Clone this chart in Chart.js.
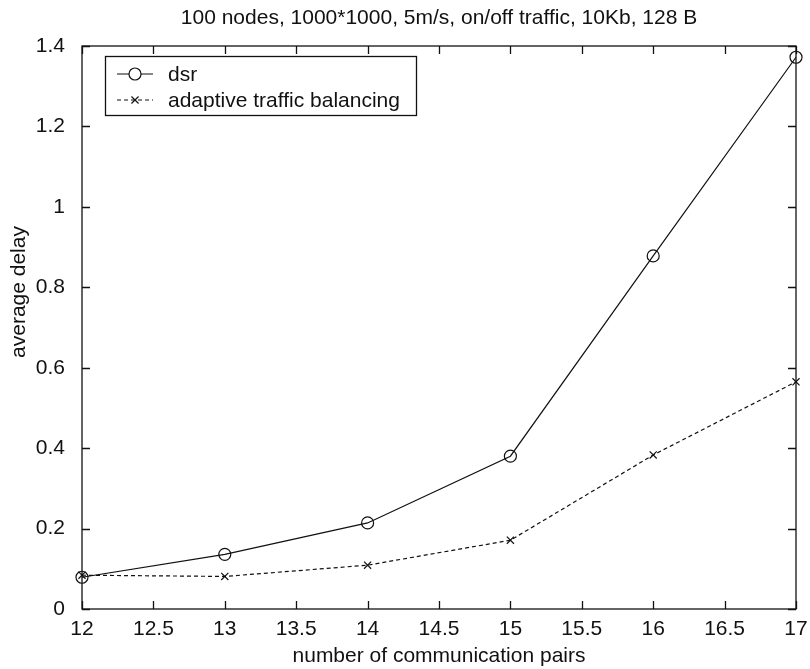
<!DOCTYPE html>
<html>
<head>
<meta charset="utf-8">
<script src="https://cdn.jsdelivr.net/npm/chart.js@4.4.1/dist/chart.umd.min.js"></script>
<style>
  html, body { margin: 0; padding: 0; background: #fff; }
  #wrap { width: 810px; height: 669px; }
</style>
</head>
<body>
<div id="wrap"><canvas id="c" width="810" height="669"></canvas></div>
<script>
// Number of communication pairs (x values)
const pairs = [12, 13, 14, 15, 16, 17];
// Average delay per protocol
const dsrDelay = [0.079, 0.136, 0.214, 0.380, 0.878, 1.372];
const atbDelay = [0.084, 0.081, 0.109, 0.171, 0.383, 0.565];
const seriesNames = ['dsr', 'adaptive traffic balancing'];

const titleText = '100 nodes, 1000*1000, 5m/s, on/off traffic, 10Kb, 128 B';
const xTitle = 'number of communication pairs';
const yTitle = 'average delay';

const FONT = '"Liberation Sans", Arial, Helvetica, sans-serif';
const INK = '#111';

const toPoints = (xs, ys) => xs.map((x, i) => ({ x: x, y: ys[i] }));
const fmt = v => String(Math.round(v * 10) / 10);

// Frame, inward tick marks on all four sides, titles and the legend box
const matlabAxes = {
  id: 'matlabAxes',
  afterDatasetsDraw(chart) {
    const ctx = chart.ctx;
    const a = chart.chartArea;
    const xs = chart.scales.x, ys = chart.scales.y;
    const tl = 8;
    ctx.save();
    ctx.strokeStyle = INK;
    ctx.lineWidth = 1.3;
    ctx.setLineDash([]);
    ctx.strokeRect(a.left, a.top, a.right - a.left, a.bottom - a.top);
    ctx.beginPath();
    xs.ticks.forEach(t => {
      const px = Math.round(xs.getPixelForValue(t.value)) + 0.5;
      ctx.moveTo(px, a.bottom); ctx.lineTo(px, a.bottom - tl);
      ctx.moveTo(px, a.top); ctx.lineTo(px, a.top + tl);
    });
    ys.ticks.forEach(t => {
      const py = Math.round(ys.getPixelForValue(t.value)) + 0.5;
      ctx.moveTo(a.left, py); ctx.lineTo(a.left + tl, py);
      ctx.moveTo(a.right, py); ctx.lineTo(a.right - tl, py);
    });
    ctx.stroke();

    // titles
    ctx.fillStyle = INK;
    ctx.font = '21px ' + FONT;
    ctx.textAlign = 'center';
    ctx.textBaseline = 'middle';
    const cx = (a.left + a.right) / 2;
    ctx.fillText(titleText, cx, 18);
    ctx.fillText(xTitle, cx, 656);
    ctx.save();
    ctx.translate(19, 292);
    ctx.rotate(-Math.PI / 2);
    ctx.fillText(yTitle, 0, 0);
    ctx.restore();

    // legend
    const lx = 105, ly = 56, lw = 311, lh = 59;
    ctx.fillStyle = '#fff';
    ctx.fillRect(lx, ly, lw, lh);
    ctx.strokeStyle = INK;
    ctx.lineWidth = 1.3;
    ctx.strokeRect(lx + 0.5, ly + 0.5, lw, lh);
    const rows = [74, 100];
    chart.data.datasets.forEach((ds, i) => {
      const y = rows[i];
      ctx.strokeStyle = ds.borderColor;
      ctx.lineWidth = ds.borderWidth;
      ctx.setLineDash(ds.borderDash || []);
      ctx.beginPath();
      ctx.moveTo(117, y); ctx.lineTo(153, y);
      ctx.stroke();
      ctx.setLineDash([]);
      Chart.helpers.drawPoint(ctx, {
        pointStyle: ds.pointStyle,
        radius: ds.pointRadius,
        borderWidth: ds.pointBorderWidth || 1
      }, 135, y);
      ctx.fillStyle = INK;
      ctx.font = '21px ' + FONT;
      ctx.textAlign = 'left';
      ctx.fillText(ds.label, 168, y + 1);
    });
    ctx.restore();
  }
};

new Chart(document.getElementById('c'), {
  type: 'line',
  data: {
    datasets: [
      {
        label: seriesNames[0],
        data: toPoints(pairs, dsrDelay),
        borderColor: INK,
        borderWidth: 1.2,
        pointStyle: 'circle',
        pointRadius: 6,
        pointBorderWidth: 1.2,
        pointBorderColor: INK,
        pointBackgroundColor: 'rgba(0,0,0,0)',
        fill: false,
        tension: 0,
        clip: false
      },
      {
        label: seriesNames[1],
        data: toPoints(pairs, atbDelay),
        borderColor: INK,
        borderWidth: 1.2,
        borderDash: [4, 3],
        pointStyle: 'crossRot',
        pointRadius: 5,
        pointBorderWidth: 1.2,
        pointBorderColor: INK,
        fill: false,
        tension: 0,
        clip: false
      }
    ]
  },
  options: {
    responsive: false,
    animation: false,
    events: [],
    layout: { padding: { top: 46, right: 14, left: 0, bottom: 0 } },
    plugins: { legend: { display: false }, title: { display: false }, tooltip: { enabled: false } },
    scales: {
      x: {
        type: 'linear',
        min: 12, max: 17,
        grid: { display: false },
        border: { display: false },
        ticks: { stepSize: 0.5, color: INK, font: { family: FONT, size: 21 }, padding: 0, maxRotation: 0, autoSkip: false, callback: fmt },
        afterFit(s) { s.height = 60; }
      },
      y: {
        min: 0, max: 1.4,
        grid: { display: false },
        border: { display: false },
        ticks: { stepSize: 0.2, color: INK, font: { family: FONT, size: 21 }, padding: 9, callback: fmt },
        afterFit(s) { s.width = 82; }
      }
    }
  },
  plugins: [matlabAxes]
});
</script>
</body>
</html>
